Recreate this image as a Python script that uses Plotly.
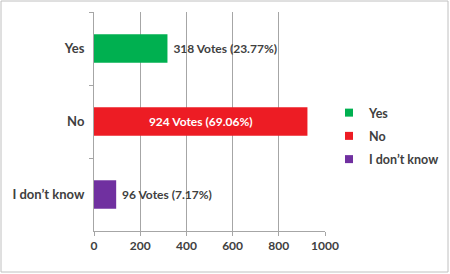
import plotly.graph_objects as go

categories = ["Yes", "No", "I don\u2019t know"]
votes = [318, 924, 96]
percents = ["23.77%", "69.06%", "7.17%"]
colors = ["#00b050", "#ed1c24", "#7030a0"]
text_positions = ["outside", "inside", "outside"]
text_colors = ["#404040", "#ffffff", "#404040"]
x_ticks = [0, 200, 400, 600, 800, 1000]

W, H = 450, 274
ML, MR, MT, MB = 94, 125, 12, 43
PW, PH = W - ML - MR, H - MT - MB

FONT = "Lato"
fig = go.Figure()
for i, cat in enumerate(categories):
    prefix = "\u00a0" if text_positions[i] == "outside" else ""
    fig.add_trace(go.Bar(
        y=[cat], x=[votes[i]], orientation="h",
        marker=dict(color=colors[i], line=dict(width=0)),
        width=0.39,
        text=[f"{prefix}{votes[i]} Votes ({percents[i]})"],
        textposition=text_positions[i],
        insidetextanchor="middle",
        textfont=dict(family=FONT, size=12, color=text_colors[i], weight="bold"),
        constraintext="none",
        cliponaxis=False,
        showlegend=False,
        hoverinfo="skip",
    ))
for i, cat in enumerate(categories):
    fig.add_trace(go.Scatter(
        x=[None], y=[None], mode="markers", name=cat,
        marker=dict(symbol="square", size=8, color=colors[i]),
        legendgroup=f"g{i}", showlegend=True,
    ))

def px_x(p):
    return (p - ML) / PW

def px_y(p):
    return (H - MB - p) / PH

fig.update_layout(
    width=W, height=H,
    margin=dict(l=ML, r=MR, t=MT, b=MB, autoexpand=False),
    paper_bgcolor="white", plot_bgcolor="white",
    barmode="overlay",
    font=dict(family=FONT, size=12, color="#404040"),
    legend=dict(
        x=px_x(329), xanchor="left", y=px_y(136), yanchor="middle",
        traceorder="grouped", tracegroupgap=4,
        font=dict(family=FONT, size=12.5, color="#404040", weight="bold"),
        bgcolor="rgba(0,0,0,0)", itemclick=False,
    ),
    xaxis=dict(
        range=[0, 1000], tickvals=x_ticks, ticktext=[str(v) for v in x_ticks],
        showgrid=True, gridcolor="#a6a6a6", gridwidth=1,
        showline=True, linecolor="#a6a6a6", linewidth=1,
        ticks="outside", ticklen=4, tickcolor="#a6a6a6",
        tickfont=dict(family=FONT, size=12, color="#404040", weight="bold"),
        zeroline=False, fixedrange=True,
    ),
    yaxis=dict(
        type="category", categoryorder="array", categoryarray=categories,
        autorange="reversed",
        tickson="boundaries",
        showgrid=False,
        showline=True, linecolor="#a6a6a6", linewidth=1,
        ticks="outside", ticklen=4, tickcolor="#a6a6a6",
        tickfont=dict(family=FONT, size=13, color="#404040", weight="bold"),
        ticklabelstandoff=6,
        fixedrange=True,
    ),
    shapes=[dict(
        type="rect", xref="paper", yref="paper",
        x0=px_x(1), x1=px_x(448), y0=px_y(272), y1=px_y(1),
        line=dict(color="#c0c0c0", width=1), fillcolor="rgba(0,0,0,0)", layer="below",
    )],
)

fig.write_html("out.html")
